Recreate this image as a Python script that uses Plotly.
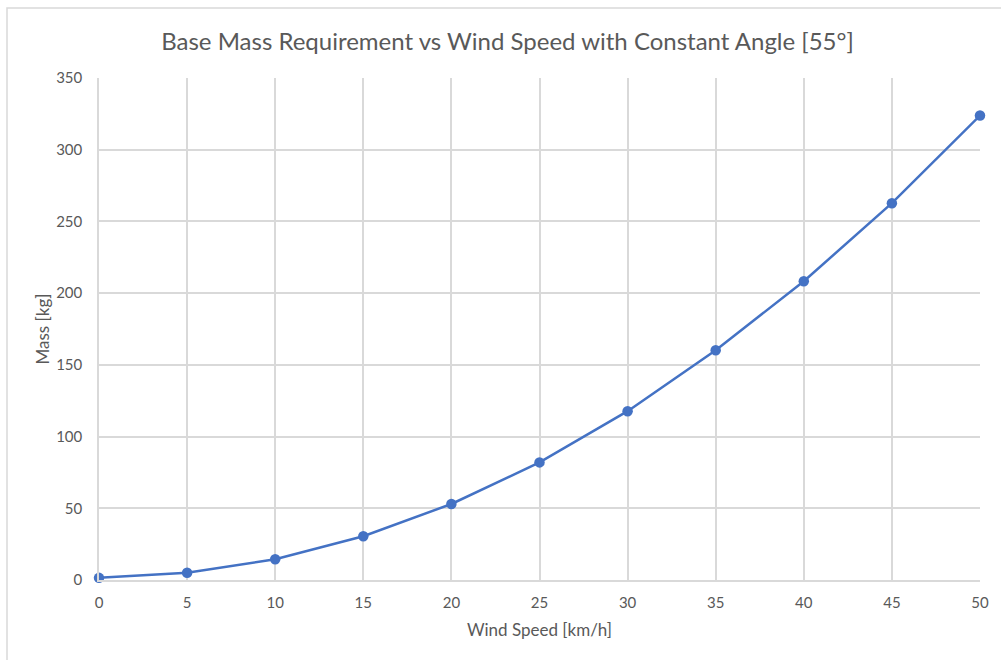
import plotly.graph_objects as go

wind_speed = [0, 5, 10, 15, 20, 25, 30, 35, 40, 45, 50]
mass_kg = [1.5, 5, 14.5, 30.5, 53, 82, 117.7, 160.2, 208.3, 262.7, 323.8]

x_ticks = [0, 5, 10, 15, 20, 25, 30, 35, 40, 45, 50]
y_ticks = [0, 50, 100, 150, 200, 250, 300, 350]

FONT = "Lato"
TEXT = "#595959"
GRID = "#d9d9d9"
BLUE = "#4472C4"

fig = go.Figure(
    go.Scatter(
        x=wind_speed,
        y=mass_kg,
        mode="lines+markers",
        line=dict(color=BLUE, width=2.5),
        marker=dict(color=BLUE, size=10.5),
        cliponaxis=False,
        showlegend=False,
    )
)

W, H = 1001, 660
ml, mr, mt, mb = 99, 21, 78, 80
pw, ph = W - ml - mr, H - mt - mb

fig.update_layout(
    width=W,
    height=H,
    margin=dict(l=ml, r=mr, t=mt, b=mb),
    paper_bgcolor="white",
    plot_bgcolor="white",
    font=dict(family=FONT, color=TEXT, size=15),
    title=dict(
        text="Base Mass Requirement vs Wind Speed with Constant Angle [55°]",
        font=dict(family=FONT, size=24, color=TEXT),
        x=(163 + 852) / 2 / W,
        xanchor="center",
        y=1 - 42 / H,
        yanchor="middle",
    ),
    xaxis=dict(
        range=[0, 50],
        tickvals=x_ticks,
        showgrid=True,
        gridcolor=GRID,
        gridwidth=1.5,
        zeroline=False,
        showline=True,
        linecolor=GRID,
        linewidth=1.5,
        ticks="",
        ticklabelstandoff=8,
        tickfont=dict(size=15, color=TEXT),
        title=dict(text="Wind Speed [km/h]", font=dict(size=17, color=TEXT), standoff=14),
    ),
    yaxis=dict(
        range=[0, 350],
        tickvals=y_ticks,
        showgrid=True,
        gridcolor=GRID,
        gridwidth=1.5,
        zeroline=False,
        showline=True,
        linecolor=GRID,
        linewidth=1.5,
        ticks="",
        ticklabelstandoff=12,
        tickfont=dict(size=15, color=TEXT),
        title=dict(text="Mass [kg]", font=dict(size=17, color=TEXT), standoff=2),
    ),
)

# Chart frame around the figure, running off the right and bottom edges
fig.add_shape(
    type="rect",
    xref="paper",
    yref="paper",
    x0=(7 - ml) / pw,
    x1=(W + 10 - ml) / pw,
    y0=-(mb + 10) / ph,
    y1=1 + (mt - 8) / ph,
    line=dict(color="#d9d9d9", width=1.5),
    layer="below",
)

fig.write_html("out.html")
